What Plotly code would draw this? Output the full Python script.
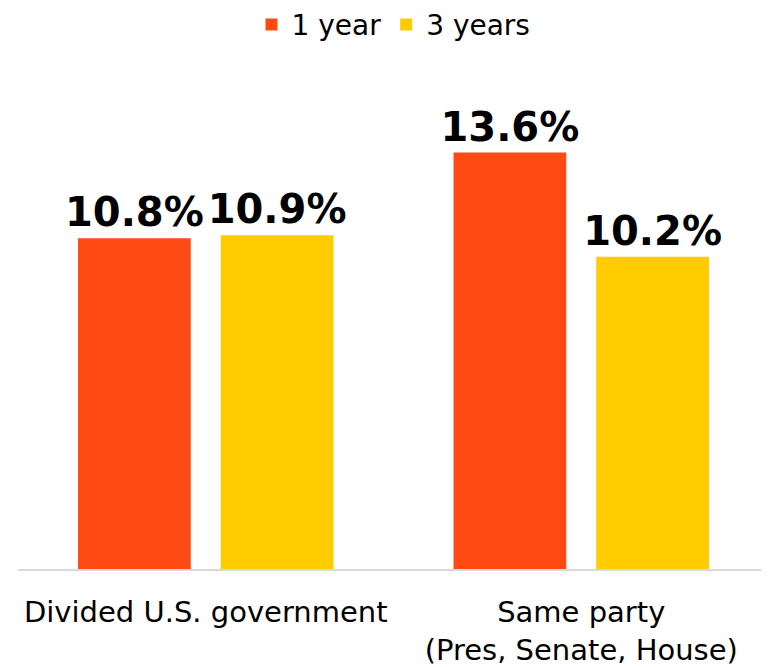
import plotly.graph_objects as go

categories = ["Divided U.S. government", "Same party<br>(Pres, Senate, House)"]
one_year = [10.8, 13.6]
three_years = [10.9, 10.2]

red = "#FF4A14"
yellow = "#FFCC00"

fig = go.Figure()
for name, vals, color in [("1 year", one_year, red), ("3 years", three_years, yellow)]:
    fig.add_trace(
        go.Bar(
            x=categories,
            y=vals,
            name=name,
            marker=dict(color=color, line=dict(width=0)),
            text=[f"{v:.1f}%" for v in vals],
            textposition="outside",
            textfont=dict(family="DejaVu Sans", size=40, color="black", weight="bold"),
            constraintext="none",
            cliponaxis=False,
            hoverinfo="skip",
        )
    )

# page body has the browser's default 8px margin, so margins are offset for it
fig.update_layout(
    width=769,
    height=667,
    barmode="group",
    bargap=0.24,
    bargroupgap=0.21,
    plot_bgcolor="white",
    paper_bgcolor="white",
    font=dict(family="DejaVu Sans", size=28, color="black"),
    margin=dict(l=10, r=8, t=71, b=106),
    legend=dict(
        orientation="h",
        x=0.5,
        xanchor="center",
        y=0.975,
        yanchor="middle",
        yref="container",
        font=dict(size=28),
        itemwidth=30,
    ),
    xaxis=dict(
        showline=True,
        linecolor="#d9d9d9",
        linewidth=2,
        ticks="",
        ticklabelstandoff=16,
        tickfont=dict(size=29),
        automargin=False,
    ),
    yaxis=dict(
        range=[0, 16],
        visible=False,
        showgrid=False,
        automargin=False,
    ),
)

fig.write_html("out.html")
